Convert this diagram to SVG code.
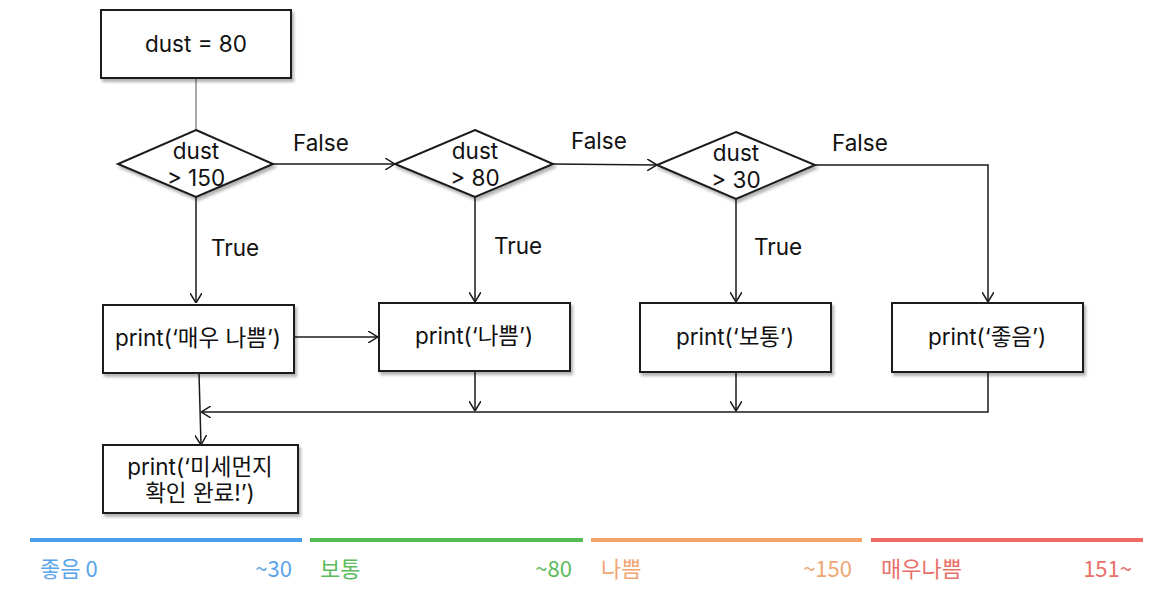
<svg xmlns="http://www.w3.org/2000/svg" width="1162" height="596" viewBox="0 0 1162 596">
<defs>
<style>
.box{fill:#fff;stroke:#1a1a1a;stroke-width:2;filter:url(#sh)}
.t{font-family:Inter,"Noto Sans CJK KR",sans-serif;font-size:22.5px;fill:#111;text-anchor:middle}
.lbl{font-family:Inter,"Noto Sans CJK KR",sans-serif;font-size:22.5px;fill:#111}
.c{fill:none;stroke:#1a1a1a;stroke-width:1.5}
.lg{font-family:"Noto Sans CJK KR",sans-serif;font-size:22px}
</style>
<filter id="sh" x="-10%" y="-10%" width="130%" height="140%">
<feDropShadow dx="2" dy="3" stdDeviation="1.5" flood-color="#000" flood-opacity="0.3"/>
</filter>
<marker id="a" viewBox="0 0 10 12" refX="10" refY="6" markerWidth="10" markerHeight="12" markerUnits="userSpaceOnUse" orient="auto">
<path d="M0,0 L10,6 L0,12" fill="none" stroke="#1a1a1a" stroke-width="1.5"/>
</marker>
</defs>

<g id="connectors">
<line x1="196" y1="78" x2="196" y2="130" stroke="#555" stroke-width="1"/>
<line class="c" x1="273" y1="164" x2="395" y2="164" marker-end="url(#a)"/>
<line class="c" x1="553" y1="164" x2="657" y2="165" marker-end="url(#a)"/>
<polyline class="c" points="815,165 988,165 988,302" marker-end="url(#a)"/>
<line class="c" x1="196" y1="197" x2="196" y2="303" marker-end="url(#a)"/>
<line class="c" x1="475" y1="197" x2="475" y2="302" marker-end="url(#a)"/>
<line class="c" x1="736" y1="199" x2="736" y2="302" marker-end="url(#a)"/>
<line class="c" x1="294" y1="337" x2="378" y2="337" marker-end="url(#a)"/>
<line class="c" x1="475" y1="371" x2="475" y2="411" marker-end="url(#a)"/>
<line class="c" x1="736" y1="372" x2="736" y2="411" marker-end="url(#a)"/>
<polyline class="c" points="988,372 988,412 201,412" marker-end="url(#a)"/>
<line class="c" x1="199" y1="373" x2="201" y2="445" marker-end="url(#a)"/>
<text class="lbl" x="293" y="151">False</text>
<text class="lbl" x="571" y="149">False</text>
<text class="lbl" x="832" y="151">False</text>
<text class="lbl" x="211" y="256">True</text>
<text class="lbl" x="494" y="254">True</text>
<text class="lbl" x="754" y="255">True</text>
</g>

<g id="start">
<rect class="box" x="101" y="10" width="190" height="68"/>
<text class="t" x="196" y="52">dust = 80</text>
</g>

<g id="cond150">
<polygon class="box" points="196,130 273,164 196,197 118,164"/>
<text class="t" x="196" y="159">dust</text>
<text class="t" x="196" y="186">&gt; 150</text>
</g>

<g id="cond80">
<polygon class="box" points="475,130 553,164 475,197 395,164"/>
<text class="t" x="475" y="159">dust</text>
<text class="t" x="475" y="186">&gt; 80</text>
</g>

<g id="cond30">
<polygon class="box" points="736,132 815,165 736,199 657,165"/>
<text class="t" x="736" y="161">dust</text>
<text class="t" x="736" y="188">&gt; 30</text>
</g>

<g id="verybad">
<rect class="box" x="103" y="305" width="191" height="68"/>
<text class="t" x="198" y="346">print(‘매우 나쁨’)</text>
</g>

<g id="bad">
<rect class="box" x="379" y="303" width="191" height="68"/>
<text class="t" x="474" y="344">print(‘나쁨’)</text>
</g>

<g id="normal">
<rect class="box" x="640" y="303" width="191" height="69"/>
<text class="t" x="735" y="345">print(‘보통’)</text>
</g>

<g id="good">
<rect class="box" x="892" y="303" width="191" height="69"/>
<text class="t" x="987" y="345">print(‘좋음’)</text>
</g>

<g id="done">
<rect class="box" x="103" y="445" width="195" height="68"/>
<text class="t" x="200" y="475">print(‘미세먼지</text>
<text class="t" x="200" y="501">확인 완료!’)</text>
</g>

<g id="legend">
<rect x="30" y="538" width="272" height="4" fill="#4a9fea"/>
<rect x="310" y="538" width="273" height="4" fill="#55bd55"/>
<rect x="591" y="538" width="271" height="4" fill="#f2a367"/>
<rect x="871" y="538" width="272" height="4" fill="#ee6a62"/>
<text class="lg" x="40" y="577" fill="#5aa4ea">좋음 0</text>
<text class="lg" x="292" y="577" fill="#5aa4ea" text-anchor="end">~30</text>
<text class="lg" x="320" y="577" fill="#5cbb5c">보통</text>
<text class="lg" x="572" y="577" fill="#5cbb5c" text-anchor="end">~80</text>
<text class="lg" x="601" y="577" fill="#f0a675">나쁨</text>
<text class="lg" x="852" y="577" fill="#f0a675" text-anchor="end">~150</text>
<text class="lg" x="881" y="577" fill="#e8706b">매우나쁨</text>
<text class="lg" x="1132" y="577" fill="#e8706b" text-anchor="end">151~</text>
</g>
</svg>
